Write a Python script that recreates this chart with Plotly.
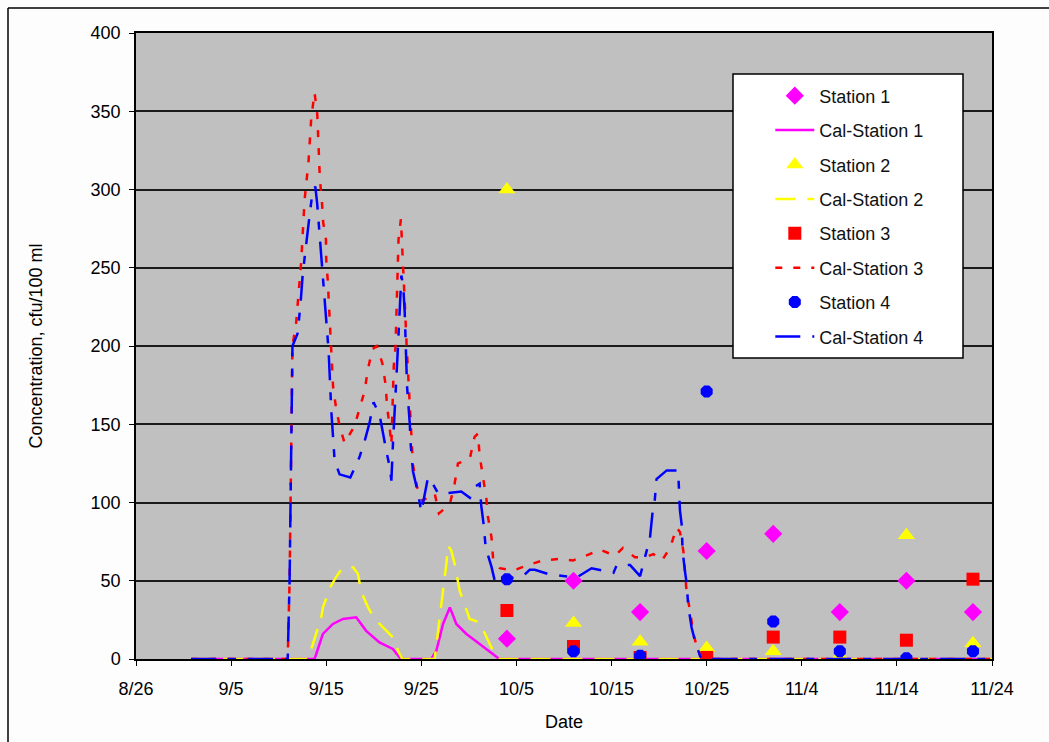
import pandas as pd
import plotly.graph_objects as go

BASE = pd.Timestamp("2005-08-26")

# ---- Observed samples (weekly) ----
obs_dates = ["2005-10-04", "2005-10-11", "2005-10-18", "2005-10-25",
             "2005-11-01", "2005-11-08", "2005-11-15", "2005-11-22"]
station1 = [13, 50, 30, 69, 80, 30, 50, 30]
station2 = [300, 23, 11, 7, 5, 2, 79, 10]
station3 = [31, 8, 1, 1, 14, 14, 12, 51]
station4 = [51, 5, 2, 171, 24, 5, 0.5, 5]

# ---- Calibrated model series (days after 8/26, value) ----
cal1_day = [5.8, 18.77, 18.95, 19.65, 20.7, 21.76, 23.15, 24.2, 25.6, 27.0, 27.72, 27.8,
            31.05, 31.58, 32.28, 33.0, 33.68, 34.74, 36.13, 37.55, 38.07, 38.2, 91]
cal1_val = [0, 0, 3.2, 16, 22.4, 25.6, 26.6, 18, 10.6, 6.4, 1, 0,
            0, 5.3, 22.4, 33, 22.4, 16, 9.6, 3.2, 1, 0, 0]

cal2_day = [5.8, 18.07, 18.6, 19.48, 19.65, 20.53, 21.0, 21.76, 22.82, 23.33, 23.7, 24.4,
            25.1, 25.97, 27.03, 27.55, 27.9, 28.0, 31.4, 31.58, 32.28, 32.63, 32.8, 33.15,
            33.5, 34.03, 34.56, 35.08, 36.13, 36.85, 37.37, 37.9, 38.0, 91]
cal2_val = [0, 0, 9.6, 26.6, 33, 47, 52, 58.6, 58.6, 54.4, 42.6, 33,
            25.6, 20.2, 13.8, 5.3, 1, 0, 0, 9.6, 43.7, 60.8, 72.5, 69.3,
            60.8, 43.7, 35.2, 25.6, 23.4, 13.8, 7.4, 1, 0, 0]

cal3_day = [5.8, 15.95, 16.15, 16.45, 16.84, 17.37, 17.72, 18.14, 18.42, 18.77, 19.06, 19.17,
            19.25, 19.33, 19.54, 19.68, 19.97, 20.0, 20.16, 20.27, 20.35, 20.53, 20.62, 20.72,
            21.0, 21.4, 21.93, 22.98, 23.5, 24.03, 24.38, 24.85, 25.33, 25.9, 26.25, 26.39,
            26.67, 26.85, 27.1, 27.28, 27.35, 27.45, 27.6, 27.85, 28.0, 28.1, 28.25, 28.45,
            28.55, 28.7, 28.8, 28.87, 29.12, 29.55, 30.1, 31.4, 31.85, 33.0, 33.5, 33.85,
            35.1, 35.6, 35.95, 36.13, 36.48, 36.85, 37.0, 37.37, 37.55, 38.25, 39.65, 41.2,
            42.8, 44.55, 45.95, 47.7, 48.77, 50.35, 51.2, 52.45, 53.5, 54.4, 55.3, 56.15,
            56.85, 57.2, 57.55, 57.9, 58.25, 58.6, 59.11, 59.5, 91]
cal3_val = [0, 0, 50, 200, 215, 254, 293, 318, 345, 362, 348, 334,
            320, 307, 293, 279, 268, 255, 242, 228, 214, 201, 188, 174,
            162, 149, 138, 149, 160, 171, 185, 198, 200, 189, 175, 162,
            148, 137, 187, 199, 213, 241, 268, 281, 257, 241, 229, 201,
            189, 175, 162, 148, 124, 110, 101, 106, 93, 99, 112, 125,
            128, 142, 144, 130, 116, 102, 91, 78, 64, 58, 56.5, 60,
            63, 64, 63, 67, 70, 66, 71, 65, 65, 67, 63, 71,
            84, 81, 69, 42, 31, 16, 5, 0, 0]

cal4_day = [5.8, 15.95, 16.15, 16.45, 16.99, 17.30, 17.53, 17.89, 18.24, 18.51, 18.85, 19.05,
            19.3, 19.58, 19.75, 20.0, 20.17, 20.25, 20.53, 20.7, 20.88, 21.4, 22.53, 23.5,
            24.03, 24.56, 24.98, 25.61, 25.96, 26.38, 26.67, 26.85, 27.02, 27.3, 27.48, 27.9,
            28.1, 28.25, 28.35, 28.45, 28.5, 28.79, 28.87, 29.12, 29.65, 30.0, 30.7, 31.2,
            31.75, 32.8, 34.2, 35.1, 35.6, 36.13, 36.3, 36.55, 36.77, 37.37, 37.72, 38.25,
            40.7, 41.4, 41.93, 43.5, 45.25, 46.3, 47.9, 49.5, 50.2, 50.55, 51.95, 53.0,
            53.5, 54.03, 54.3, 54.55, 54.73, 55.8, 57.0, 57.12, 57.19, 57.37, 57.47, 57.71,
            57.9, 58.06, 58.42, 58.77, 59.3, 59.5, 91]
cal4_val = [0, 0, 50, 200, 208, 227, 246, 266, 283, 296, 302, 291,
            272, 253, 236, 218, 205, 197, 159, 141, 127, 118, 116, 129,
            139, 151, 164, 156, 144, 131, 123, 114, 138, 176, 192, 245,
            238, 222, 205, 193, 174, 150, 138, 120, 106, 94, 116, 112,
            106, 106, 107, 103, 110, 112, 98, 86, 71, 59, 50, 50.5,
            53, 57, 57, 54, 53, 52, 58, 56, 55, 60, 60, 53,
            65, 77, 93, 102, 115, 120.5, 120.5, 108, 95, 86, 69, 56.5,
            48, 34, 20, 11.7, 2, 0, 0]

tick_labels = ["8/26", "9/5", "9/15", "9/25", "10/5", "10/15", "10/25", "11/4", "11/14", "11/24"]


def to_dates(days):
    return [BASE + pd.Timedelta(days=d) for d in days]


FONT = "Arial, Liberation Sans, sans-serif"
FS = 18
fig = go.Figure()

fig.add_trace(go.Scatter(x=obs_dates, y=station1, mode="markers", name="Station 1",
                         legendgroup="a",
                         marker=dict(symbol="diamond", size=14, color="#FF00FF")))
fig.add_trace(go.Scatter(x=to_dates(cal1_day), y=cal1_val, mode="lines", name="Cal-Station 1",
                         legendgroup="b",
                         line=dict(color="#FF00FF", width=2.5)))
fig.add_trace(go.Scatter(x=obs_dates, y=station2, mode="markers", name="Station 2",
                         legendgroup="c",
                         marker=dict(symbol="triangle-up", size=15, color="#FFFF00")))
fig.add_trace(go.Scatter(x=to_dates(cal2_day), y=cal2_val, mode="lines", name="Cal-Station 2",
                         legendgroup="d",
                         line=dict(color="#FFFF00", width=2.5, dash="20px,12px")))
fig.add_trace(go.Scatter(x=obs_dates, y=station3, mode="markers", name="Station 3",
                         legendgroup="e",
                         marker=dict(symbol="square", size=13, color="#FF0000")))
fig.add_trace(go.Scatter(x=to_dates(cal3_day), y=cal3_val, mode="lines", name="Cal-Station 3",
                         legendgroup="f",
                         line=dict(color="#FF0000", width=2.5, dash="7px,11px")))
fig.add_trace(go.Scatter(x=obs_dates, y=station4, mode="markers", name="Station 4",
                         legendgroup="g",
                         marker=dict(symbol="octagon", size=13, color="#0000FF")))
fig.add_trace(go.Scatter(x=to_dates(cal4_day), y=cal4_val, mode="lines", name="Cal-Station 4",
                         legendgroup="h",
                         line=dict(color="#0000FF", width=2.5, dash="25px,12px,8px,12px")))

tick_vals = [BASE + pd.Timedelta(days=10 * i) for i in range(len(tick_labels))]

fig.update_layout(
    width=1049, height=742,
    margin=dict(l=136, r=57, t=33, b=83),
    paper_bgcolor="#FDFDFD",
    plot_bgcolor="#C0C0C0",
    font=dict(family=FONT, size=FS, color="black"),
    showlegend=True,
    legend=dict(x=0.741, y=(659 - 77.5) / 626, xanchor="left", yanchor="top",
                bgcolor="rgba(0,0,0,0)", borderwidth=0,
                font=dict(family=FONT, size=FS, color="#111111"),
                tracegroupgap=8, itemwidth=39, traceorder="grouped"),
    xaxis=dict(range=[BASE, BASE + pd.Timedelta(days=90)],
               tickvals=tick_vals, ticktext=tick_labels,
               showgrid=False, zeroline=False,
               showline=True, linecolor="black", linewidth=1.5, mirror=True,
               ticks="outside", ticklen=5, tickcolor="black",
               ticklabelstandoff=8,
               tickfont=dict(family=FONT, size=FS),
               title=dict(text="Date", font=dict(family=FONT, size=FS), standoff=17)),
    yaxis=dict(range=[0, 400], dtick=50, tick0=0,
               showgrid=True, gridcolor="#1a1a1a", gridwidth=1.5, zeroline=False,
               showline=True, linecolor="black", linewidth=1.5, mirror=True,
               ticks="outside", ticklen=5, tickcolor="black",
               ticklabelstandoff=5,
               tickfont=dict(family=FONT, size=FS),
               title=dict(text="Concentration, cfu/100 ml", font=dict(family=FONT, size=FS),
                          standoff=43)),
    shapes=[
        # legend box
        dict(type="rect", xref="paper", yref="paper",
             x0=(733 - 136) / 856, x1=(963 - 136) / 856,
             y0=(659 - 358) / 626, y1=(659 - 74) / 626,
             fillcolor="white", line=dict(color="black", width=1.5), layer="above"),
        # outer chart frame (top and left)
        dict(type="line", xref="paper", yref="paper",
             x0=(8 - 136) / 856, x1=(1049 - 136) / 856,
             y0=(659 - 8) / 626, y1=(659 - 8) / 626,
             line=dict(color="black", width=1.5)),
        dict(type="line", xref="paper", yref="paper",
             x0=(8 - 136) / 856, x1=(8 - 136) / 856,
             y0=(659 - 8) / 626, y1=(659 - 742) / 626,
             line=dict(color="black", width=1.5)),
    ],
)

fig.write_html("out.html")
